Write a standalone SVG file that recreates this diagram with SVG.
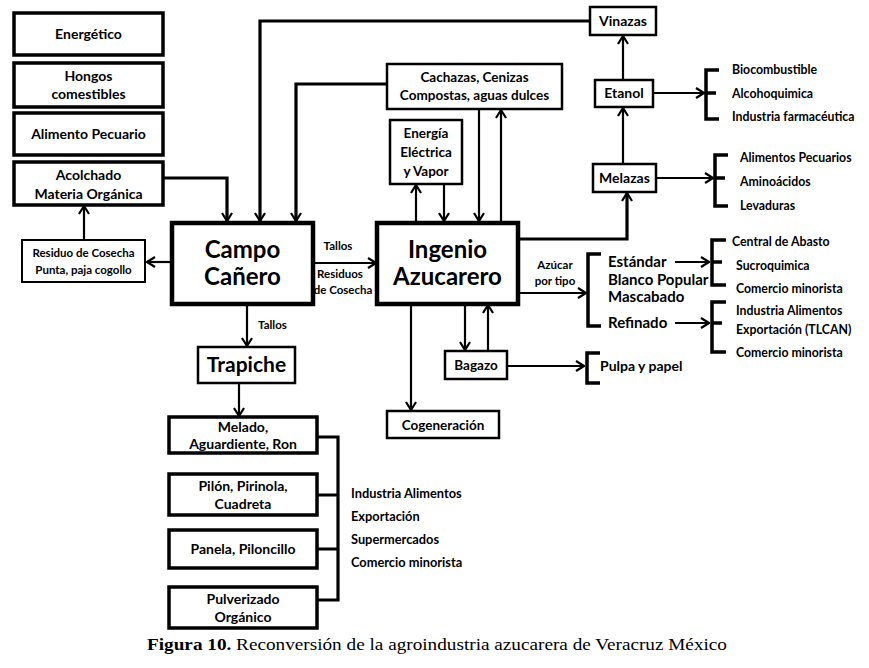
<svg xmlns="http://www.w3.org/2000/svg" width="869" height="668" viewBox="0 0 869 668">
<style>
rect{fill:#fff;stroke:#000}
.k{stroke-width:3.5}
.m{stroke-width:2.5}
.b{stroke-width:4.5}
.s{stroke-width:2}
text{font-family:Lato,"Open Sans","Liberation Sans",sans-serif;font-weight:700;fill:#000;text-anchor:middle}
.t15{font-size:15px}
.t14{font-size:14px}
.t13{font-size:13.5px}
.t12{font-size:12.3px}
.t11{font-size:11.5px}
.big{font-size:24px}
.l{text-anchor:start}
.c line,.c path{fill:none;stroke:#000;stroke-width:2.2}
.c .w{stroke-width:3.2}
.c .br{stroke-width:3.5}
.cap{font-family:"Liberation Serif","Times New Roman",serif;font-weight:400;font-size:17px}
</style>
<defs>
<marker id="a" viewBox="0 0 10 12" refX="9" refY="6" markerWidth="10" markerHeight="12" orient="auto" markerUnits="userSpaceOnUse">
<path d="M1,1 L9,6 L1,11" fill="none" stroke="#000" stroke-width="2.2"/>
</marker>
</defs>

<g id="energetico"><rect class="k" x="14" y="13" width="149" height="42"/><text class="t14" x="88.5" y="39">Energético</text></g>
<g id="hongos"><rect class="k" x="14" y="63" width="149" height="44"/><text class="t14" x="88.5" y="81">Hongos</text><text class="t14" x="88.5" y="99">comestibles</text></g>
<g id="alimento"><rect class="k" x="14" y="113" width="149" height="42"/><text class="t14" x="88.5" y="139">Alimento Pecuario</text></g>
<g id="acolchado"><rect class="k" x="14" y="162" width="149" height="43"/><text class="t14" x="88.5" y="180">Acolchado</text><text class="t14" x="88.5" y="199">Materia Orgánica</text></g>
<g id="residuo"><rect class="s" x="22" y="240" width="123" height="42"/><text class="t11" x="83.5" y="257">Residuo de Cosecha</text><text class="t11" x="83.5" y="274">Punta, paja cogollo</text></g>

<g id="campo"><rect class="b" x="172" y="223" width="141" height="81"/><text class="big" x="242.5" y="258">Campo</text><text class="big" x="242.5" y="285">Cañero</text></g>
<g id="ingenio"><rect class="b" x="377" y="223" width="141" height="81"/><text class="big" x="447.5" y="258">Ingenio</text><text class="big" x="447.5" y="285">Azucarero</text></g>

<g id="trapiche"><rect class="m" x="198" y="347" width="97" height="36"/><text x="246.5" y="372" style="font-size:21px">Trapiche</text></g>
<g id="melado"><rect class="k" x="169" y="417" width="148" height="36"/><text class="t14" x="243" y="432">Melado,</text><text class="t14" x="243" y="449">Aguardiente, Ron</text></g>
<g id="pilon"><rect class="k" x="169" y="474" width="148" height="41"/><text class="t14" x="243" y="491">Pilón, Pirinola,</text><text class="t14" x="243" y="509">Cuadreta</text></g>
<g id="panela"><rect class="k" x="169" y="530" width="148" height="38"/><text class="t14" x="243" y="554">Panela, Piloncillo</text></g>
<g id="pulverizado"><rect class="k" x="169" y="587" width="148" height="41"/><text class="t14" x="243" y="604">Pulverizado</text><text class="t14" x="243" y="622">Orgánico</text></g>

<g id="mercados-trapiche">
<text class="l" style="font-size:12.8px" x="351" y="498">Industria Alimentos</text>
<text class="l" style="font-size:12.8px" x="351" y="521">Exportación</text>
<text class="l" style="font-size:12.8px" x="351" y="544">Supermercados</text>
<text class="l" style="font-size:12.8px" x="351" y="567">Comercio minorista</text>
</g>

<g id="cachazas"><rect class="m" x="387" y="64" width="175" height="45"/><text class="t13" x="474.5" y="82">Cachazas, Cenizas</text><text class="t13" x="474.5" y="100">Compostas, aguas dulces</text></g>
<g id="energia"><rect class="m" x="390" y="120" width="72" height="64"/><text class="t13" x="426" y="138">Energía</text><text class="t13" x="426" y="157">Eléctrica</text><text class="t13" x="426" y="176">y Vapor</text></g>
<g id="vinazas"><rect class="m" x="590" y="7" width="66" height="28"/><text class="t14" x="623" y="26">Vinazas</text></g>
<g id="etanol"><rect class="m" x="595" y="80" width="58" height="27"/><text class="t14" x="624" y="98">Etanol</text></g>
<g id="melazas"><rect class="m" x="593" y="164" width="63" height="28"/><text class="t14" x="624.5" y="183">Melazas</text></g>
<g id="bagazo"><rect class="m" x="445" y="351" width="62" height="28"/><text class="t13" x="476" y="370">Bagazo</text></g>
<g id="cogeneracion"><rect class="m" x="387" y="411" width="112" height="27"/><text class="t13" x="443" y="430">Cogeneración</text></g>

<g id="usos-etanol">
<text class="t12 l" x="732" y="74">Biocombustible</text>
<text class="t12 l" x="732" y="98">Alcohoquimica</text>
<text class="t12 l" x="732" y="121">Industria farmacéutica</text>
</g>
<g id="usos-melazas">
<text class="t12 l" x="740" y="162">Alimentos Pecuarios</text>
<text class="t12 l" x="740" y="186">Aminoácidos</text>
<text class="t12 l" x="740" y="210">Levaduras</text>
</g>
<g id="azucar-tipos">
<text class="t15 l" x="608" y="267">Estándar</text>
<text class="t15 l" x="608" y="285">Blanco Popular</text>
<text class="t15 l" x="608" y="302">Mascabado</text>
<text class="t15 l" x="608" y="328">Refinado</text>
</g>
<g id="usos-estandar">
<text class="t12 l" x="732" y="246">Central de Abasto</text>
<text class="t12 l" x="736" y="270">Sucroquimica</text>
<text class="t12 l" x="736" y="293">Comercio minorista</text>
</g>
<g id="usos-refinado">
<text class="t12 l" x="736" y="315">Industria Alimentos</text>
<text class="t12 l" x="736" y="334">Exportación (TLCAN)</text>
<text class="t12 l" x="736" y="357">Comercio minorista</text>
</g>
<g id="pulpa"><text class="t14 l" x="600" y="371">Pulpa y papel</text></g>

<g id="labels">
<text class="t11" x="338" y="250">Tallos</text>
<text class="t11" x="340" y="278">Residuos</text>
<text class="t11" x="343" y="294">de Cosecha</text>
<text class="t11 l" x="258" y="329">Tallos</text>
<text class="t11" x="555" y="269">Azúcar</text>
<text class="t11" x="555" y="285">por tipo</text>
</g>

<g id="connectors" class="c">
<path d="M84,240 V206" marker-end="url(#a)"/>
<path d="M172,262 H147" marker-end="url(#a)"/>
<path class="w" d="M163,178 H227 V221" marker-end="url(#a)"/>
<path class="w" d="M590,21 H260 V221" marker-end="url(#a)"/>
<path class="w" d="M387,84 H296 V221" marker-end="url(#a)"/>
<path d="M313,263 H376" marker-end="url(#a)"/>
<path d="M247,304 V346" marker-end="url(#a)"/>
<path d="M239,383 V416" marker-end="url(#a)"/>
<path class="w" d="M317,437 H338 V600 H317 M317,495 H338 M317,549 H338"/>
<path d="M416,222 V185" marker-end="url(#a)"/>
<path d="M444,184 V221" marker-end="url(#a)"/>
<path d="M479,109 V221" marker-end="url(#a)"/>
<path d="M501,222 V110" marker-end="url(#a)"/>
<path d="M623,80 V36" marker-end="url(#a)"/>
<path d="M623,164 V108" marker-end="url(#a)"/>
<path class="w" d="M518,239 H627 V193" marker-end="url(#a)"/>
<path d="M653,93 H704" marker-end="url(#a)"/>
<path class="br" d="M719,70 H706 V119 H719 M706,93 H716"/>
<path d="M656,178 H713" marker-end="url(#a)"/>
<path class="br" d="M728,155 H715 V206 H728 M715,178 H725"/>
<path d="M518,293 H586" marker-end="url(#a)"/>
<path class="br" d="M601,254 H588 V326 H601"/>
<path d="M675,262 H709" marker-end="url(#a)"/>
<path class="br" d="M726,240 H712 V285 H726 M712,262 H722"/>
<path d="M675,323 H709" marker-end="url(#a)"/>
<path class="br" d="M726,302 H712 V352 H726 M712,323 H722"/>
<path d="M411,304 V410" marker-end="url(#a)"/>
<path d="M465,304 V350" marker-end="url(#a)"/>
<path d="M488,351 V305" marker-end="url(#a)"/>
<path d="M507,366 H584" marker-end="url(#a)"/>
<path class="br" d="M600,353 H587 V383 H600"/>
</g>

<text class="cap" x="437" y="650" textLength="580" lengthAdjust="spacingAndGlyphs"><tspan font-weight="700">Figura 10.</tspan> Reconversión de la agroindustria azucarera de Veracruz México</text>
</svg>
